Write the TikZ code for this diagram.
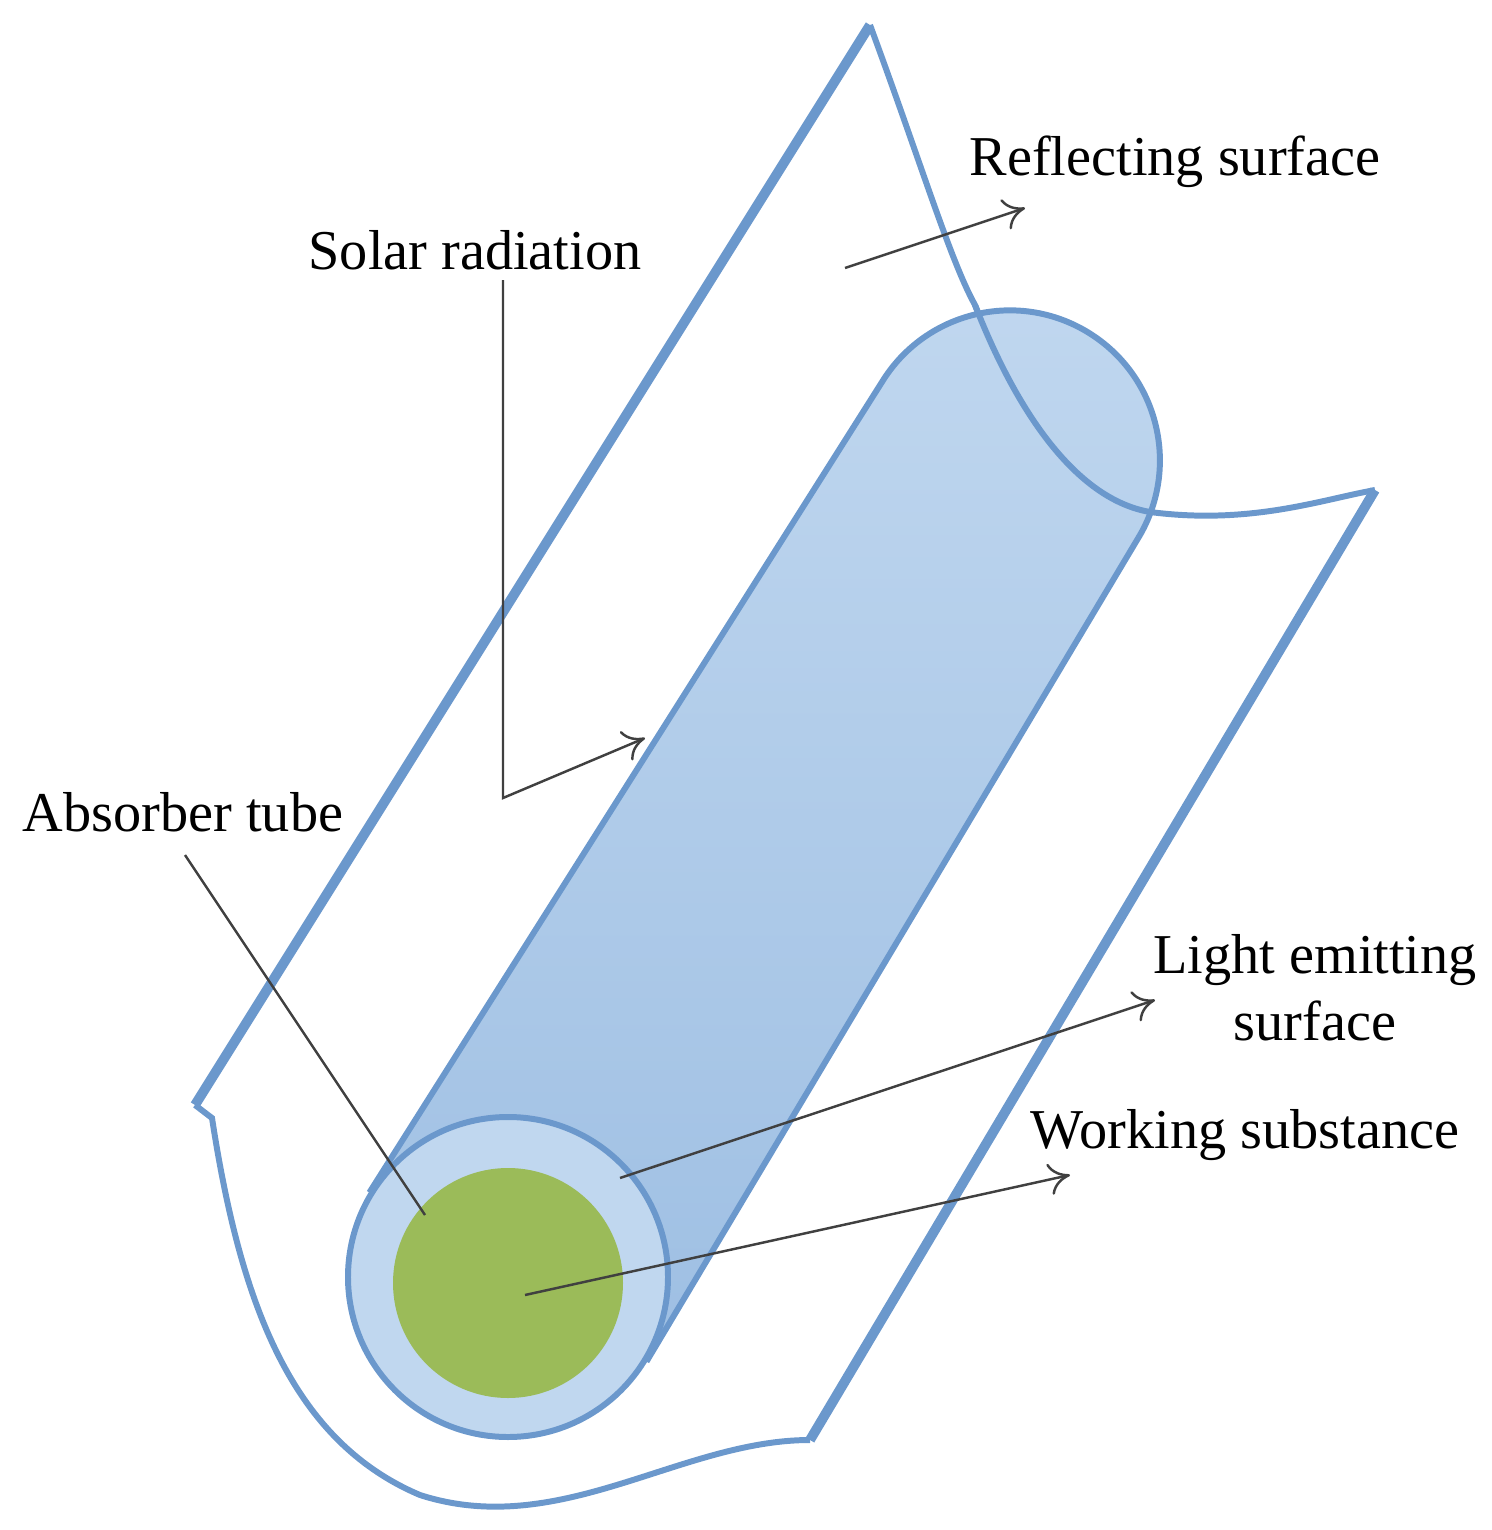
\documentclass[tikz,border=0pt]{standalone}
\usepackage{fontspec}
\setmainfont{Liberation Serif}
\usetikzlibrary{positioning, calc, arrows.meta}
\definecolor{edgeblue}{HTML}{6B98CC}
\definecolor{tubetop}{HTML}{C0D7EF}
\definecolor{tubebot}{HTML}{9EBFE3}
\definecolor{greenfill}{HTML}{9BBB59}
\begin{document}
\begin{tikzpicture}[x=0.01cm, y=-0.01cm,
    label/.style={font=\fontsize{16}{19}\selectfont, inner sep=0pt, align=center},
    lead/.style={draw=black!75, line width=0.7pt},
    leadarrow/.style={lead, -{To[length=6pt, width=9pt]}}]
    \useasboundingbox (0,0) rectangle (1492,1530);
    % reflector
    \draw[edgeblue, line width=1.7pt] (870,25) .. controls (920,160) and (950,260) .. (975,305)
        .. controls (1020,420) and (1080,500) .. (1150,512) .. controls (1250,525) and (1320,500) .. (1375,490);
    \draw[edgeblue, line width=1.7pt] (195,1105) -- (212,1118) .. controls (240,1300) and (290,1440) .. (420,1495)
        .. controls (560,1540) and (680,1440) .. (810,1440);
    \draw[edgeblue, line width=2.8pt] (870,25) -- (195,1105);
    \draw[edgeblue, line width=2.8pt] (1375,490) -- (810,1440);
    % absorber tube
    \draw[edgeblue, line width=1.7pt, top color=tubetop, bottom color=tubebot]
        (371,1190) -- (882,382) arc[start angle=211.5, end angle=391.5, radius=150]
        -- (648,1359) -- cycle;
    \draw[edgeblue, line width=1.7pt, fill=tubetop] (508,1277) circle[radius=160];
    \fill[greenfill] (508,1283) circle[radius=115];
    \draw[edgeblue, line width=1.7pt] (975,305) .. controls (1020,420) and (1080,500) .. (1150,512);
    % labels
    \node[label] (Solar) at (475,250) {Solar radiation};
    \node[label] (Reflect) at (1175,162) {Reflecting surface};
    \node[label] (Absorber) at (183,812) {Absorber tube};
    \node[label] (Emit) at (1315,988) {Light emitting\\surface};
    \node[label] (Working) at (1245,1135) {Working substance};
    \coordinate (SolarBend) at (503,798);
    \coordinate (SolarEnd) at (645,738);
    \coordinate (ReflectStart) at (845,268);
    \coordinate (ReflectEnd) at (1025,208);
    \coordinate (AbsorberEnd) at (425,1215);
    \coordinate (EmitStart) at (620,1178);
    \coordinate (EmitEnd) at (1155,1000);
    \coordinate (WorkStart) at (525,1295);
    \coordinate (WorkEnd) at (1070,1175);
    \draw[leadarrow] (503,280) -- (SolarBend) -- (SolarEnd);
    \draw[leadarrow] (ReflectStart) -- (ReflectEnd);
    \draw[lead] (185,855) -- (AbsorberEnd);
    \draw[leadarrow] (EmitStart) -- (EmitEnd);
    \draw[leadarrow] (WorkStart) -- (WorkEnd);
\end{tikzpicture}
\end{document}
